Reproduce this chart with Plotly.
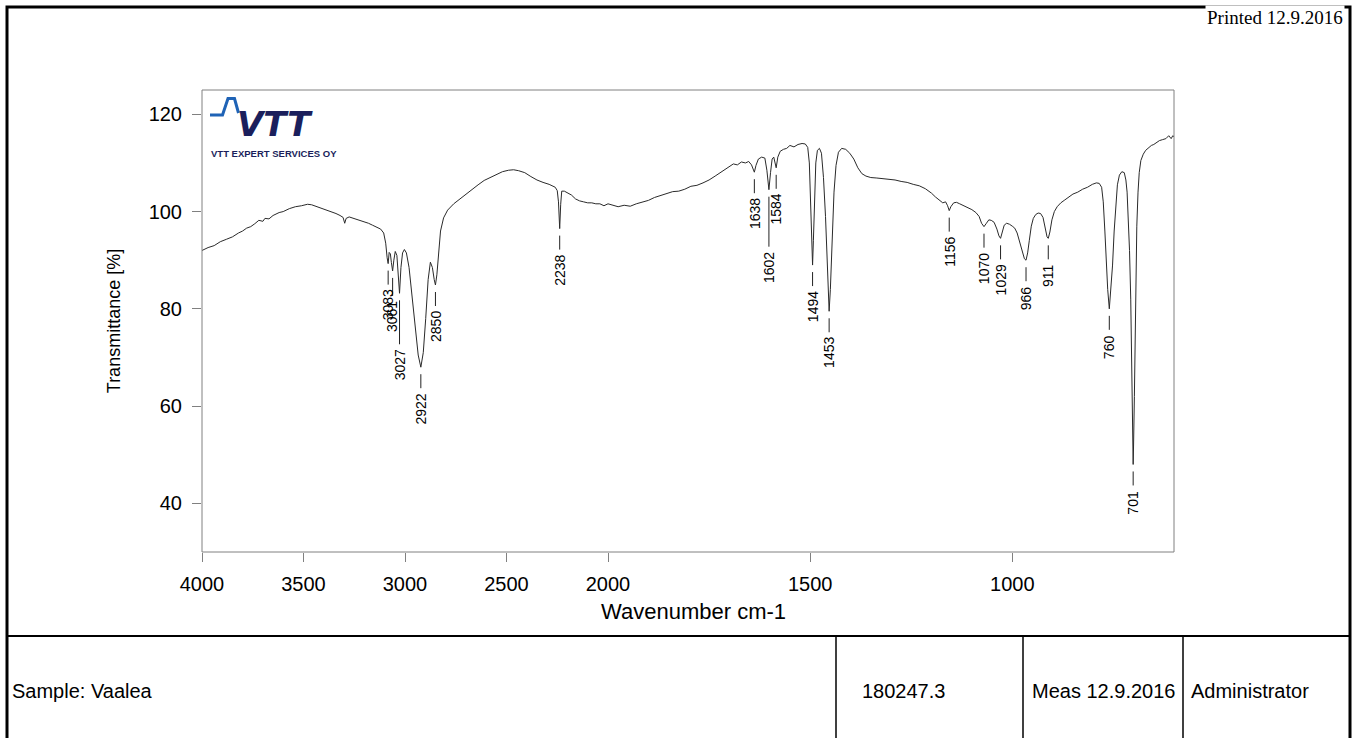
import plotly.graph_objects as go

# ---------------------------------------------------------------------------
# FTIR spectrum (transmittance vs wavenumber)
# ---------------------------------------------------------------------------
wavenumber = [
    4000, 3970, 3940, 3910, 3880, 3850, 3820, 3800, 3780, 3760, 3740, 3720,
    3700, 3690, 3670, 3650, 3620, 3600, 3570, 3540, 3510, 3480, 3460, 3440,
    3420, 3400, 3380, 3360, 3340, 3320, 3305, 3297, 3290, 3275, 3260, 3240,
    3220, 3200, 3180, 3160, 3140, 3120, 3105, 3095, 3088, 3083, 3078, 3072,
    3067, 3061, 3055, 3048, 3040, 3034, 3027, 3020, 3012, 3003, 2993, 2980,
    2965, 2950, 2935, 2922, 2910, 2898, 2886, 2875, 2865, 2856, 2850, 2843,
    2835, 2825, 2810, 2790, 2760, 2730, 2700, 2670, 2640, 2610, 2580, 2550,
    2520, 2490, 2465, 2440, 2410, 2380, 2350, 2320, 2290, 2260, 2250, 2244,
    2238, 2233, 2228, 2215, 2200, 2180, 2160, 2140, 2120, 2100, 2080, 2060,
    2040, 2020, 2000,
    1990, 1975, 1960, 1945, 1930, 1915, 1900, 1885, 1870, 1855, 1840, 1825,
    1810, 1795, 1780, 1765, 1750, 1735, 1720, 1710, 1700, 1690, 1680, 1670,
    1660, 1652, 1645, 1641, 1638, 1634, 1628, 1620, 1612, 1607, 1602, 1598,
    1594, 1590, 1587, 1584, 1580, 1574, 1566, 1558, 1550, 1540, 1530, 1520,
    1512, 1506, 1502, 1499, 1496, 1494, 1492, 1489, 1486, 1482, 1477, 1472,
    1467, 1462, 1458, 1455, 1453, 1450, 1446, 1441, 1436, 1430, 1422, 1412,
    1402, 1392, 1382, 1372, 1362, 1350, 1335, 1320, 1305, 1290, 1275, 1260,
    1245, 1230, 1215, 1200, 1190, 1180, 1172, 1165, 1160, 1156, 1152, 1145,
    1138, 1130, 1120, 1110, 1100, 1090, 1082, 1076, 1070, 1064, 1058, 1052,
    1045, 1038, 1033, 1029, 1025, 1020, 1014, 1007, 1000, 994, 988, 981,
    975, 970, 966, 962, 958, 953, 948, 942, 936, 930, 924, 918,
    914, 911, 907, 902, 896, 889, 880, 870, 860, 850, 838, 826,
    814, 802, 792, 785, 779, 775, 771, 768, 764, 760, 756, 752,
    748, 744, 740, 735, 729, 723, 719, 716, 713, 710, 707, 704,
    702, 701, 700, 698, 696, 694, 692, 689, 686, 682, 676, 670,
    663, 656, 650, 643, 636, 628, 620, 613, 607, 603, 600,
]

transmittance = [
    92.0, 92.6, 93.0, 93.8, 94.3, 94.8, 95.6, 96.0, 96.6, 96.9, 97.5, 98.2,
    98.0, 98.6, 98.5, 99.2, 99.8, 100.0, 100.6, 101.0, 101.2, 101.5, 101.4, 101.1,
    100.9, 100.6, 100.3, 100.0, 99.6, 99.2, 98.8, 97.6, 98.6, 98.9, 98.7, 98.5,
    98.2, 97.9, 97.6, 97.2, 96.8, 96.4, 95.6, 93.5, 90.5, 89.3, 91.6, 91.3,
    89.5, 87.8, 90.0, 91.8, 91.0, 88.0, 83.2, 88.5, 91.5, 92.2, 91.5, 88.5,
    82.0, 76.0, 70.5, 68.0, 71.0, 78.0, 86.0, 89.6, 88.5, 86.0, 84.9, 87.0,
    92.0, 96.0, 98.7, 100.3, 101.6, 102.6, 103.5, 104.6, 105.5, 106.4, 107.0, 107.7,
    108.2, 108.5, 108.6, 108.4, 108.0, 107.2, 106.5, 106.0, 105.6, 105.0, 104.3, 102.0,
    96.5, 101.5, 104.2, 104.2, 103.8, 103.4, 102.6, 102.2, 102.0, 101.8, 101.8, 101.6,
    101.6, 101.2, 101.6,
    101.4, 101.0, 101.3, 101.1, 101.6, 102.0, 102.3, 102.9, 103.3, 103.6, 104.1, 104.2,
    104.6, 105.2, 105.4, 105.9, 106.5, 107.3, 108.1, 108.8, 109.3, 109.8, 109.6, 110.2,
    110.0, 110.3, 109.6, 108.6, 108.1, 109.5, 110.8, 111.2, 111.0, 108.5, 104.5, 108.0,
    110.8, 111.2, 110.2, 109.0, 111.2, 112.4, 112.8, 113.0, 113.6, 113.3, 113.8, 114.0,
    113.9, 113.2, 110.0, 103.0, 95.0, 89.0, 94.0, 104.0, 110.0, 112.6, 113.0, 112.0,
    107.0, 99.0, 89.0, 82.0, 79.5, 84.0, 94.0, 104.0, 109.5, 112.2, 113.0, 112.8,
    112.0, 110.8, 109.0, 107.8, 107.3, 107.0, 106.9, 106.8, 106.6, 106.5, 106.2, 106.0,
    105.6, 105.3, 104.7, 103.8, 103.0, 102.3, 101.8, 102.0, 101.2, 100.2, 101.0, 101.8,
    101.9, 101.6, 101.2, 100.8, 100.4, 99.8, 99.0, 97.6, 96.9, 97.6, 98.3, 98.2,
    97.8, 96.4, 95.0, 94.5, 95.5, 97.2, 97.6, 97.4, 97.0, 96.6, 95.6, 93.5,
    91.5, 90.3, 90.0, 91.5, 94.0, 97.0, 98.6, 99.4, 99.7, 99.6, 98.8, 96.5,
    94.8, 94.5, 95.8, 98.3, 100.0, 101.0, 101.8, 102.4, 103.0, 103.6, 104.0, 104.6,
    105.0, 105.6, 105.9, 105.8, 105.0, 102.0, 96.0, 90.0, 84.0, 80.0, 84.0, 89.0,
    96.0, 102.0, 105.5, 107.5, 108.2, 108.0, 106.5, 104.0, 99.0, 92.0, 82.0, 65.0,
    54.0, 48.0, 52.0, 62.0, 76.0, 88.0, 97.0, 104.0, 108.0, 110.5, 111.8, 112.6,
    113.2, 113.6, 113.8, 114.2, 114.6, 114.8, 115.0, 115.6, 115.0, 115.6, 115.4,
]

# Labelled absorption bands
peak_labels = [3083, 3061, 3027, 2922, 2850, 2238, 1638, 1602, 1584,
               1494, 1453, 1156, 1070, 1029, 966, 911, 760, 701]

# Axis ticks (the wavenumber axis is expanded 2x below 2000 cm-1)
x_ticks_high = [4000, 3500, 3000, 2500, 2000]
x_ticks_low = [1500, 1000]
y_ticks = [40, 60, 80, 100, 120]

# Footer fields
sample_name = "Sample: Vaalea"
sample_id = "180247.3"
measured = "Meas 12.9.2016"
operator = "Administrator"
printed = "Printed 12.9.2016"

# ---------------------------------------------------------------------------
W, H = 1359, 738
L, R, T, B = 202, 1174, 90, 552          # plot box in pixels
SPLIT = 2000
split_frac = 406 / (R - L)               # 4000..2000 occupies 406 px

def px_x(px):
    return (px - L) / (R - L)

def px_y(py):
    return (B - py) / (B - T)

FONT = "Liberation Sans, Arial, sans-serif"
AX_GRAY = "#808080"

hi_w = [w for w in wavenumber if w >= SPLIT]
hi_t = [t for w, t in zip(wavenumber, transmittance) if w >= SPLIT]
lo_w = [w for w in wavenumber if w <= SPLIT]
lo_t = [t for w, t in zip(wavenumber, transmittance) if w <= SPLIT]

fig = go.Figure()
line_style = dict(color="#2a2a2a", width=1)
fig.add_trace(go.Scatter(x=hi_w, y=hi_t, mode="lines", line=line_style,
                         xaxis="x", yaxis="y", hoverinfo="skip"))
fig.add_trace(go.Scatter(x=lo_w, y=lo_t, mode="lines", line=line_style,
                         xaxis="x2", yaxis="y", hoverinfo="skip"))

axis_common = dict(showgrid=False, zeroline=False, showline=False,
                   ticks="outside", ticklen=9, tickcolor=AX_GRAY, tickwidth=1,
                   tickfont=dict(family=FONT, size=20, color="black"))

fig.update_layout(
    width=W, height=H,
    margin=dict(l=L, r=W - R, t=T, b=H - B, pad=0),
    paper_bgcolor="white", plot_bgcolor="white",
    showlegend=False,
    xaxis=dict(domain=[0, split_frac], range=[4000, SPLIT], anchor="y",
               tickvals=x_ticks_high, ticktext=[str(v) for v in x_ticks_high],
               ticklabelstandoff=5, **axis_common),
    xaxis2=dict(domain=[split_frac, 1], range=[SPLIT, 600], anchor="y",
                tickvals=x_ticks_low, ticktext=[str(v) for v in x_ticks_low],
                ticklabelstandoff=5, **axis_common),
    yaxis=dict(domain=[0, 1], range=[30, 125], anchor="x",
               tickvals=y_ticks, ticklabelstandoff=6,
               title=dict(text="Transmittance [%]", standoff=23,
                          font=dict(family=FONT, size=18, color="black")),
               **axis_common),
)

shapes = []
annotations = []

# plot box
shapes.append(dict(type="rect", xref="paper", yref="paper", x0=0, x1=1, y0=0, y1=1,
                   line=dict(color=AX_GRAY, width=1)))

# peak markers: short tick below each band minimum, wavenumber printed beneath
lookup = dict(zip(wavenumber, transmittance))
extra_len = {3061: 18, 3027: 44, 1602: 50}
GAP = 7
for w in peak_labels:
    v = lookup[w]
    xr = "x" if w > SPLIT else "x2"
    ln = extra_len.get(w, 14)
    shapes.append(dict(type="line", xref=xr, yref="y", ysizemode="pixel",
                       yanchor=v, x0=w, x1=w, y0=-GAP, y1=-(GAP + ln),
                       line=dict(color="#222222", width=1)))
    annotations.append(dict(x=w, y=v, xref=xr, yref="y", text=str(w),
                            textangle=-90, showarrow=False,
                            xanchor="center", yanchor="top",
                            yshift=-(GAP + ln + 3),
                            font=dict(family=FONT, size=14, color="black")))

# x axis title
annotations.append(dict(x=px_x(693), y=px_y(611), xref="paper", yref="paper",
                        text="Wavenumber cm-1", showarrow=False,
                        xanchor="center", yanchor="middle",
                        font=dict(family=FONT, size=22, color="black")))

# page frame and footer table
FL, FR, FT, FB = 7, 1350, 7, 760
shapes.append(dict(type="path", xref="paper", yref="paper",
                   path=(f"M {px_x(FL)} {px_y(FB)} L {px_x(FL)} {px_y(FT)} "
                         f"L {px_x(FR)} {px_y(FT)} L {px_x(FR)} {px_y(FB)}"),
                   line=dict(color="black", width=3)))
shapes.append(dict(type="line", xref="paper", yref="paper",
                   x0=px_x(FL), x1=px_x(FR), y0=px_y(636), y1=px_y(636),
                   line=dict(color="black", width=2)))
for xs in (836, 1023, 1183):
    shapes.append(dict(type="line", xref="paper", yref="paper",
                       x0=px_x(xs), x1=px_x(xs), y0=px_y(636), y1=px_y(FB),
                       line=dict(color="black", width=1.5)))

footer_font = dict(family=FONT, size=20, color="black")
for txt, xp in ((sample_name, 10), (sample_id, 860), (measured, 1030), (operator, 1189)):
    annotations.append(dict(x=px_x(xp), y=px_y(691), xref="paper", yref="paper",
                            text=txt, showarrow=False, xanchor="left",
                            yanchor="middle", font=footer_font))

annotations.append(dict(x=px_x(1345), y=px_y(17), xref="paper", yref="paper",
                        text=printed, showarrow=False, xanchor="right",
                        yanchor="middle", bgcolor="white", borderpad=1,
                        font=dict(family="Liberation Serif, Times New Roman, serif",
                                  size=19, color="black")))

# company logo
NAVY = "#1b1f5c"
pulse = [(210, 115), (222.5, 115), (228, 98.5), (234.5, 98.5), (238.5, 113)]
shapes.append(dict(type="path", xref="paper", yref="paper",
                   path="M " + " L ".join(f"{px_x(a)} {px_y(b)}" for a, b in pulse),
                   line=dict(color="#1f63b6", width=3)))
annotations.append(dict(x=px_x(235), y=px_y(124), xref="paper", yref="paper",
                        text="VTT", showarrow=False, xanchor="left",
                        yanchor="middle",
                        font=dict(family="DejaVu Sans, " + FONT, size=34, color=NAVY,
                                  weight="bold", style="italic")))
annotations.append(dict(x=px_x(209), y=px_y(153), xref="paper", yref="paper",
                        text="VTT EXPERT SERVICES OY", showarrow=False,
                        xanchor="left", yanchor="middle",
                        font=dict(family=FONT, size=9.5, color=NAVY, weight="bold")))

fig.update_layout(shapes=shapes, annotations=annotations)
fig.write_html("out.html")
